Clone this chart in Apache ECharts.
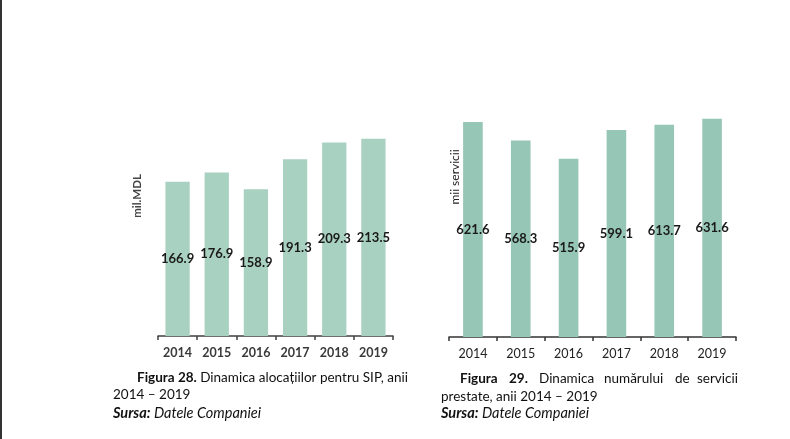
<!DOCTYPE html>
<html>
<head>
<meta charset="utf-8">
<script src="https://cdn.jsdelivr.net/npm/echarts@6/dist/echarts.min.js"></script>
<style>
html,body{margin:0;padding:0;background:#fff;}
#c{width:790px;height:439px;}
</style>
</head>
<body>
<div id="c"></div>
<script>
var years = ['2014', '2015', '2016', '2017', '2018', '2019'];
var allocations = [166.9, 176.9, 158.9, 191.3, 209.3, 213.5];
var services = [621.6, 568.3, 515.9, 599.1, 613.7, 631.6];

var chart = echarts.init(document.getElementById('c'), null, {renderer: 'canvas'});
var F = 'Lato, "Open Sans", sans-serif';

var capStyle = {
  fontFamily: F, fontSize: 13.5, fill: '#111',
  rich: {
    b: {fontFamily: F, fontSize: 13.5, fontWeight: 'bold', fill: '#111'},
    bi: {fontFamily: F, fontSize: 14.5, fontWeight: 'bold', fontStyle: 'italic', fill: '#111'},
    i: {fontFamily: F, fontSize: 14.5, fontStyle: 'italic', fill: '#111'},
    n: {fontFamily: F, fontSize: 13.5, fill: '#111'}
  }
};
function txt(x, y, s, align) {
  return {type: 'text', x: x, y: y,
    style: Object.assign({}, capStyle, {text: s, textAlign: align || 'left', textVerticalAlign: 'middle'})};
}

var option = {
  backgroundColor: '#fff',
  animation: false,
  grid: [
    {left: 158, width: 235, top: 105, bottom: 103},
    {left: 449, width: 287, top: 95, bottom: 102}
  ],
  xAxis: [
    {type: 'category', gridIndex: 0, data: years,
     axisLine: {lineStyle: {color: '#404040', width: 1.5}},
     axisTick: {show: true, length: 4, lineStyle: {color: '#404040', width: 1.5}},
     axisLabel: {fontFamily: F, fontSize: 12.5, fontWeight: 'bold', color: '#3a3a3a', margin: 10}},
    {type: 'category', gridIndex: 1, data: years,
     axisLine: {lineStyle: {color: '#333', width: 1.5}},
     axisTick: {show: true, length: 4, lineStyle: {color: '#333', width: 1.5}},
     axisLabel: {fontFamily: F, fontSize: 12.5, color: '#222', margin: 10}}
  ],
  yAxis: [
    {type: 'value', gridIndex: 0, min: 0, max: 250, show: false},
    {type: 'value', gridIndex: 1, min: 0, max: 700, show: false}
  ],
  series: [
    {type: 'bar', xAxisIndex: 0, yAxisIndex: 0, data: allocations, barWidth: '62%',
     itemStyle: {color: '#a9d1c1'},
     label: {show: true, position: 'inside', fontFamily: F, fontSize: 13, fontWeight: 'bold', color: '#1a1a1a'}},
    {type: 'bar', xAxisIndex: 1, yAxisIndex: 1, data: services, barWidth: '41%',
     itemStyle: {color: '#96c6b5'},
     label: {show: true, position: 'inside', fontFamily: F, fontSize: 13, fontWeight: 'bold', color: '#1a1a1a'}}
  ],
  graphic: [
    {type: 'rect', shape: {x: 0, y: 0, width: 2, height: 439}, style: {fill: '#333'}},
    {type: 'text', x: 137, y: 196, rotation: Math.PI / 2,
     style: {text: 'mil.MDL', fontFamily: F, fontSize: 11.5, fontWeight: 'bold', fill: '#444', textAlign: 'center', textVerticalAlign: 'middle'}},
    {type: 'text', x: 455, y: 177, rotation: Math.PI / 2,
     style: {text: 'mii servicii', fontFamily: F, fontSize: 12, fill: '#222', textAlign: 'center', textVerticalAlign: 'middle'}},
    txt(137, 378, '{b|Figura 28.}{n| Dinamica alocațiilor pentru SIP, anii}'),
    txt(113, 395, '2014 – 2019'),
    txt(113, 413, '{bi|Sursa:}{i| Datele Companiei}'),
    txt(460, 379, '{b|Figura}'),
    txt(509, 379, '{b|29.}'),
    txt(539, 379, 'Dinamica'),
    txt(604, 379, 'numărului'),
    txt(675, 379, 'de'),
    txt(738, 379, 'servicii', 'right'),
    txt(441, 397, 'prestate, anii 2014 – 2019'),
    txt(441, 413, '{bi|Sursa:}{i| Datele Companiei}')
  ]
};
chart.setOption(option);
</script>
</body>
</html>
